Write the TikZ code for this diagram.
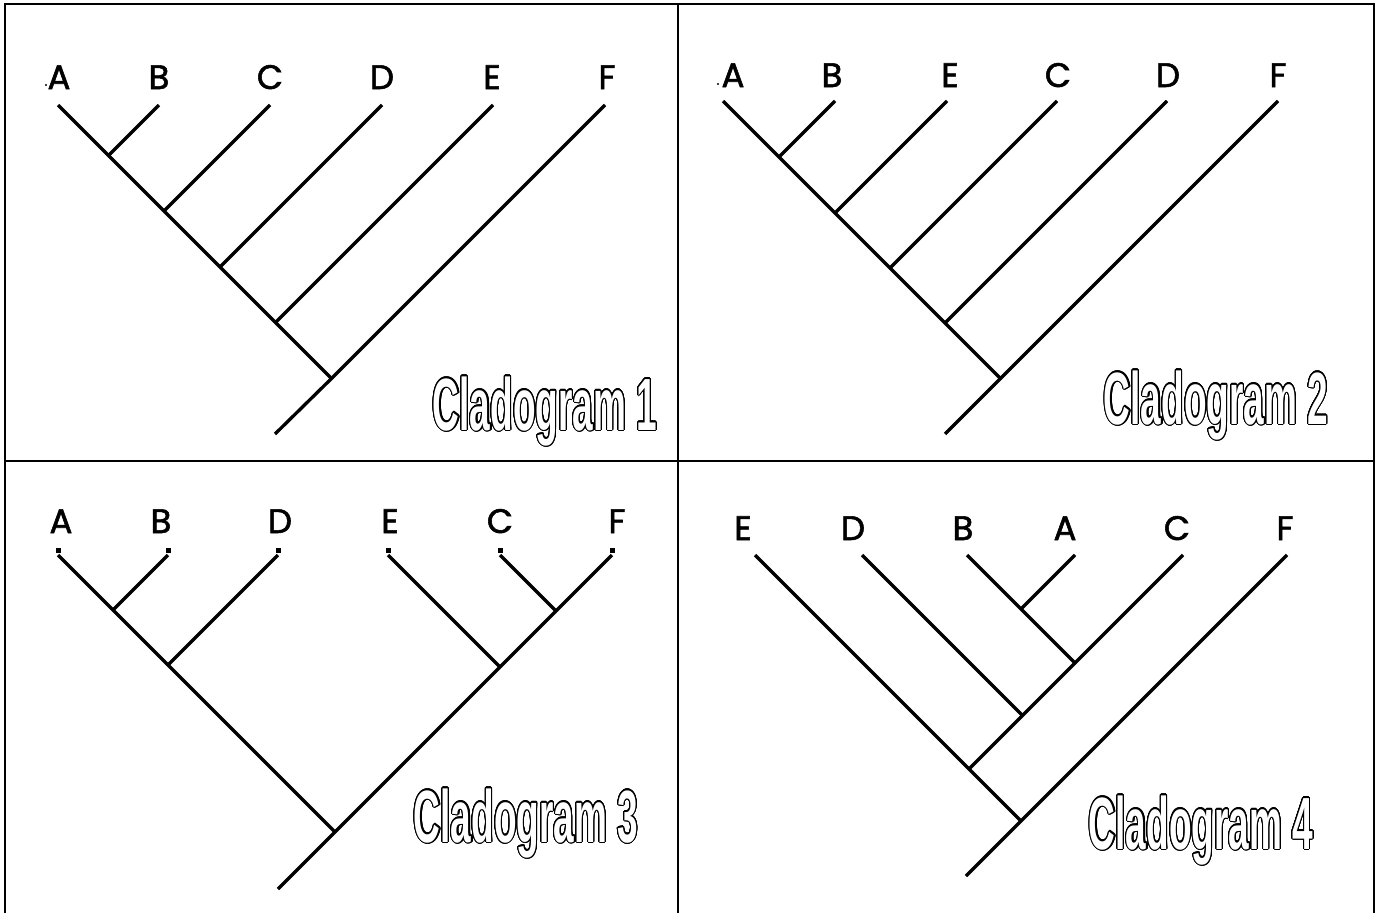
\documentclass[tikz,border=0pt]{standalone}
\usepackage{fontspec}
\usepackage[copies]{contour}
\setmainfont{Poppins}
\newfontfamily\labelfont[FakeBold=1.6]{Poppins}
\newfontfamily\titlefont[FakeStretch=0.5]{Liberation Sans Bold}
\contourlength{1.1pt}
\contournumber{24}
\tikzset{
  branch/.style={line width=3.3pt, line cap=butt},
  frame/.style={line width=2.6pt},
  taxon/.style={anchor=base, inner sep=0pt, font=\labelfont\fontsize{34}{34}\selectfont},
  title/.style={anchor=base, inner sep=0pt, font=\titlefont\fontsize{74}{74}\selectfont},
  tick/.style={fill=black, minimum width=5pt, minimum height=5pt, inner sep=0pt},
}
\newcommand{\cladotitle}[1]{\textcolor{white}{\contour{black}{#1}}}
\begin{document}
\begin{tikzpicture}[x=1pt,y=-1pt]
\useasboundingbox (0,0) rectangle (1377,913);
\fill[white] (0,0) rectangle (1377,913);
% frame
\coordinate (fl) at (5,913);
\coordinate (ftl) at (5,4);
\coordinate (ftr) at (1374,4);
\coordinate (fr) at (1374,913);
\coordinate (mt) at (678,4);
\coordinate (mb) at (678,913);
\coordinate (ml) at (5,461);
\coordinate (mr) at (1374,461);
\draw[frame] (fl) -- (ftl) -- (ftr) -- (fr);
\draw[frame] (mt) -- (mb);
\draw[frame] (ml) -- (mr);

% ---------------- Cladogram 1
\foreach \n/\x/\lx in {A/58/59,B/159/159,C/270/270,D/382/382,E/493/492,F/605/607}{
  \coordinate (p1\n) at (\x,105);
  \node[taxon] (l1\n) at (\lx,89) {\n};
}
\coordinate (p1j1) at (108.5,155.5);
\coordinate (p1j2) at (164,211);
\coordinate (p1j3) at (220,267);
\coordinate (p1j4) at (275.5,322.5);
\coordinate (p1r) at (331.5,378.5);
\coordinate (p1b) at (275,434);
\draw[branch] (p1A) -- (p1r);
\draw[branch] (p1B) -- (p1j1);
\draw[branch] (p1C) -- (p1j2);
\draw[branch] (p1D) -- (p1j3);
\draw[branch] (p1E) -- (p1j4);
\draw[branch] (p1F) -- (p1r) -- (p1b);
\fill (46,85) circle (1.1);
\node[title] (t1) at (545,430) {\cladotitle{Cladogram 1}};

% ---------------- Cladogram 2
\foreach \n/\x/\lx in {A/723/733,B/835/832,E/947/950,C/1057/1058,D/1167/1168,F/1278/1278}{
  \coordinate (p2\n) at (\x,101);
  \node[taxon] (l2\n) at (\lx,87) {\n};
}
\coordinate (p2j1) at (779,157);
\coordinate (p2j2) at (835,213);
\coordinate (p2j3) at (890,268);
\coordinate (p2j4) at (945,323);
\coordinate (p2r) at (1000.5,378.5);
\coordinate (p2b) at (945,434);
\draw[branch] (p2A) -- (p2r);
\draw[branch] (p2B) -- (p2j1);
\draw[branch] (p2E) -- (p2j2);
\draw[branch] (p2C) -- (p2j3);
\draw[branch] (p2D) -- (p2j4);
\draw[branch] (p2F) -- (p2r) -- (p2b);
\fill (718,84) circle (1.1);
\node[title] (t2) at (1216,424) {\cladotitle{Cladogram 2}};

% ---------------- Cladogram 3
\foreach \n/\x/\lx in {A/58/61,B/168/161,D/278/280,E/388/390,C/500/500,F/612/617}{
  \coordinate (p3\n) at (\x,555);
  \node[tick] (k3\n) at (\x,550.5) {};
  \node[taxon] (l3\n) at (\lx,533) {\n};
}
\coordinate (p3ab) at (113,610);
\coordinate (p3abd) at (168,665);
\coordinate (p3cf) at (556,611);
\coordinate (p3ecf) at (500,667);
\coordinate (p3r) at (335,832);
\coordinate (p3b) at (278,889);
\draw[branch] (p3A) -- (p3r);
\draw[branch] (p3B) -- (p3ab);
\draw[branch] (p3D) -- (p3abd);
\draw[branch] (p3E) -- (p3ecf);
\draw[branch] (p3C) -- (p3cf);
\draw[branch] (p3F) -- (p3r) -- (p3b);
\node[title] (t3) at (526,842) {\cladotitle{Cladogram 3}};

% ---------------- Cladogram 4
\foreach \n/\x/\lx in {E/755/743,D/862/853,B/967/963,A/1075/1065,C/1183/1177,F/1287/1285}{
  \coordinate (p4\n) at (\x,555);
  \node[taxon] (l4\n) at (\lx,540) {\n};
}
\coordinate (p4ba) at (1021,609);
\coordinate (p4bac) at (1075,663);
\coordinate (p4dc) at (1022.5,715.5);
\coordinate (p4ec) at (969,769);
\coordinate (p4r) at (1021,821);
\coordinate (p4b) at (966,876);
\draw[branch] (p4E) -- (p4r);
\draw[branch] (p4D) -- (p4dc);
\draw[branch] (p4B) -- (p4bac);
\draw[branch] (p4A) -- (p4ba);
\draw[branch] (p4C) -- (p4ec);
\draw[branch] (p4F) -- (p4r) -- (p4b);
\node[title] (t4) at (1201,849) {\cladotitle{Cladogram 4}};
\end{tikzpicture}
\end{document}
